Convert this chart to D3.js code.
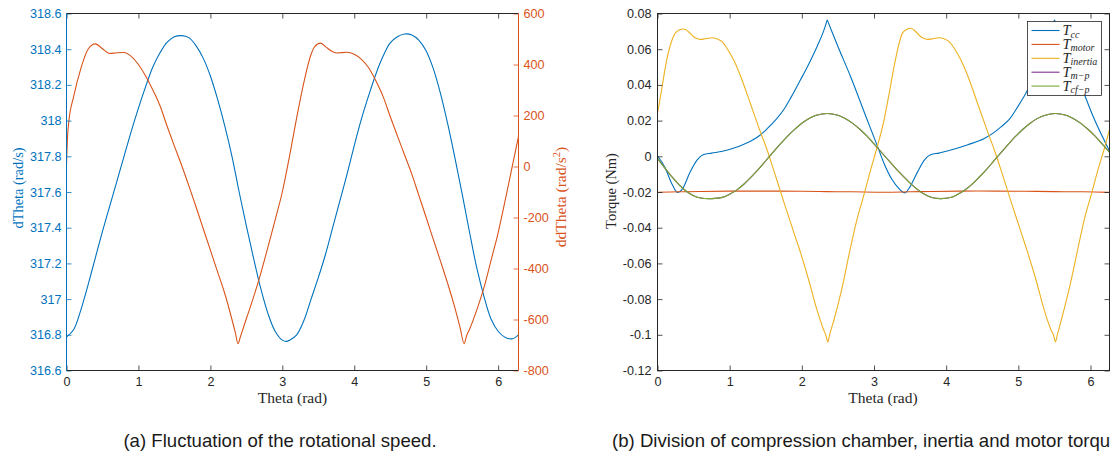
<!DOCTYPE html>
<html>
<head>
<meta charset="utf-8">
<script src="https://cdn.jsdelivr.net/npm/d3@7"></script>
<style>
  body { margin: 0; background: #fff; }
  svg { display: block; }
</style>
</head>
<body>
<svg id="fig" width="1110" height="456"></svg>
<script>
// ---------- shared ticks ----------
const xTicks = [0, 1, 2, 3, 4, 5, 6];
const speedTicks = [316.6, 316.8, 317, 317.2, 317.4, 317.6, 317.8, 318, 318.2, 318.4, 318.6];
const accelTicks = [-800, -600, -400, -200, 0, 200, 400, 600];
const torqueTicks = [-0.12, -0.1, -0.08, -0.06, -0.04, -0.02, 0, 0.02, 0.04, 0.06, 0.08];

// ---------- panel (a): rotational speed and acceleration ----------
const speedTheta = [0,0.1,0.2,0.3,0.4,0.5,0.6,0.7,0.8,0.9,1.0,1.1,1.2,1.3,1.4,1.5,1.6,1.7,1.8,1.9,2.0,2.1,2.2,2.3,2.4,2.5,2.6,2.7,2.8,2.9,3.0,3.06,3.1,3.2,3.3,3.4,3.5,3.6,3.7,3.8,3.9,4.0,4.1,4.2,4.3,4.4,4.5,4.6,4.7,4.8,4.9,5.0,5.1,5.2,5.3,5.4,5.5,5.6,5.7,5.8,5.9,6.0,6.1,6.2,6.283];
const speedVals = [316.787,316.83,316.94,317.08,317.23,317.38,317.52,317.66,317.80,317.94,318.07,318.19,318.30,318.38,318.44,318.47,318.476,318.465,318.42,318.35,318.25,318.12,317.97,317.80,317.60,317.41,317.23,317.06,316.92,316.82,316.77,316.763,316.77,316.80,316.88,317.00,317.12,317.25,317.40,317.55,317.70,317.86,318.01,318.14,318.26,318.36,318.435,318.47,318.485,318.48,318.45,318.39,318.29,318.15,317.98,317.79,317.59,317.38,317.18,317.02,316.89,316.82,316.785,316.778,316.80];

const accelTheta = [0,0.015,0.03,0.1,0.2,0.3,0.4,0.5,0.6,0.7,0.8,0.9,1.0,1.1,1.2,1.3,1.4,1.5,1.6,1.7,1.8,1.9,2.0,2.1,2.2,2.3,2.35,2.384,2.42,2.5,2.6,2.7,2.8,2.9,3.0,3.1,3.2,3.3,3.4,3.45,3.53,3.6,3.7,3.76,3.8,3.9,4.0,4.1,4.2,4.3,4.4,4.5,4.6,4.7,4.8,4.9,5.0,5.1,5.2,5.3,5.4,5.47,5.528,5.56,5.6,5.7,5.8,5.9,6.0,6.1,6.2,6.283];
const accelVals = [6,120,170,275,385,460,481,462,443,446,447,432,400,355,300,238,157,80,5,-75,-158,-243,-328,-413,-498,-600,-655,-695,-665,-597,-512,-420,-316,-210,-100,40,192,330,440,470,484,470,450,445,446,448,440,420,387,336,275,196,120,45,-30,-115,-200,-287,-372,-460,-555,-630,-695,-665,-640,-565,-478,-370,-260,-130,5,118];

// ---------- panel (b): torque components ----------
const ccTheta = [0,0.1,0.2,0.278,0.35,0.45,0.55,0.64,0.75,0.9,1.05,1.2,1.3,1.42,1.52,1.65,1.75,1.85,1.98,2.1,2.21,2.3,2.335,2.352,2.37,2.5,2.676,2.907,3.05,3.139,3.25,3.324,3.426,3.5,3.6,3.7,3.79,3.9,4.065,4.3,4.528,4.65,4.76,4.88,4.991,5.1,5.22,5.35,5.45,5.485,5.5,5.52,5.65,5.82,6.05,6.263];
const ccVals = [0.0003,-0.006,-0.0155,-0.0203,-0.018,-0.009,-0.002,0.001,0.0018,0.0028,0.0045,0.0068,0.0087,0.0118,0.0155,0.021,0.0262,0.033,0.0427,0.052,0.0614,0.070,0.0742,0.0764,0.0746,0.0615,0.0446,0.0203,0.0054,-0.004,-0.013,-0.0171,-0.0205,-0.017,-0.009,-0.002,0.001,0.0018,0.0035,0.0065,0.010,0.013,0.0165,0.021,0.0277,0.035,0.0446,0.058,0.070,0.0742,0.0764,0.0744,0.0615,0.0446,0.021,0.003];

const motorTheta = [0,0.3,0.6,1.0,1.5,2.0,2.35,2.7,3.14,3.5,3.8,4.2,4.7,5.1,5.5,5.9,6.283];
const motorVals = [-0.0201,-0.0199,-0.0197,-0.0195,-0.0195,-0.0196,-0.0198,-0.0199,-0.0201,-0.0199,-0.0197,-0.0195,-0.0195,-0.0196,-0.0198,-0.0199,-0.0202];

const inertiaTheta = [0,0.06,0.127,0.2,0.245,0.3,0.361,0.43,0.5,0.593,0.68,0.755,0.82,0.894,0.97,1.056,1.15,1.287,1.4,1.519,1.6,1.75,1.9,1.982,2.1,2.213,2.3,2.335,2.36,2.385,2.45,2.55,2.676,2.76,2.861,2.95,3.046,3.139,3.2,3.278,3.34,3.394,3.45,3.509,3.58,3.648,3.741,3.83,3.9,3.97,4.04,4.12,4.204,4.3,4.435,4.55,4.667,4.75,4.9,5.05,5.13,5.25,5.361,5.45,5.49,5.514,5.54,5.6,5.7,5.83,5.91,6.01,6.1,6.2,6.283];
const inertiaVals = [0.024,0.038,0.0539,0.065,0.0689,0.0708,0.0713,0.0698,0.067,0.0655,0.066,0.0664,0.0658,0.0642,0.060,0.0539,0.045,0.0296,0.0165,0.0035,-0.0065,-0.0255,-0.044,-0.054,-0.070,-0.0865,-0.097,-0.1005,-0.104,-0.100,-0.091,-0.075,-0.0508,-0.036,-0.0215,-0.008,0.0055,0.0203,0.033,0.0502,0.062,0.069,0.071,0.0717,0.0698,0.067,0.0655,0.066,0.0664,0.0658,0.0642,0.060,0.0539,0.045,0.0296,0.0165,0.0035,-0.0065,-0.0255,-0.044,-0.054,-0.070,-0.0865,-0.097,-0.1005,-0.104,-0.100,-0.091,-0.075,-0.0508,-0.036,-0.0215,-0.008,0.0055,0.018];

const mpTheta = [0,0.1,0.2,0.3,0.4,0.5,0.6,0.755,0.9,1.0,1.1,1.2,1.3,1.4,1.5,1.6,1.7,1.8,1.9,2.0,2.1,2.2,2.352,2.5,2.6,2.7,2.8,2.9,3.0,3.1,3.2,3.3,3.4,3.5,3.6,3.7,3.8,3.917,4.06,4.16,4.26,4.36,4.46,4.56,4.66,4.76,4.86,4.96,5.06,5.16,5.26,5.36,5.514,5.66,5.76,5.86,5.96,6.06,6.16,6.263];
const mpVals = [-0.0012,-0.0065,-0.0115,-0.016,-0.0196,-0.0221,-0.0234,-0.0237,-0.023,-0.0212,-0.0188,-0.0155,-0.0115,-0.0072,-0.0025,0.0022,0.0068,0.0112,0.0151,0.0185,0.0212,0.023,0.024,0.023,0.0212,0.0186,0.0153,0.0114,0.007,0.0024,-0.0022,-0.0068,-0.011,-0.015,-0.0185,-0.0213,-0.0231,-0.0237,-0.0231,-0.0213,-0.0189,-0.0156,-0.0116,-0.0073,-0.0026,0.0021,0.0067,0.0111,0.015,0.0184,0.0211,0.0229,0.024,0.023,0.0212,0.0186,0.0153,0.0114,0.007,0.0023];

const cfTheta = [0,0.1,0.2,0.3,0.4,0.5,0.6,0.755,0.9,1.0,1.1,1.2,1.3,1.4,1.5,1.6,1.7,1.8,1.9,2.0,2.1,2.2,2.352,2.5,2.6,2.7,2.8,2.9,3.0,3.1,3.2,3.3,3.4,3.5,3.6,3.7,3.8,3.917,4.06,4.16,4.26,4.36,4.46,4.56,4.66,4.76,4.86,4.96,5.06,5.16,5.26,5.36,5.514,5.66,5.76,5.86,5.96,6.06,6.16,6.263];
const cfVals = [-0.0012,-0.0065,-0.0115,-0.016,-0.0196,-0.0221,-0.0234,-0.0237,-0.023,-0.0212,-0.0188,-0.0155,-0.0115,-0.0072,-0.0025,0.0022,0.0068,0.0112,0.0151,0.0185,0.0212,0.023,0.024,0.023,0.0212,0.0186,0.0153,0.0114,0.007,0.0024,-0.0022,-0.0068,-0.011,-0.015,-0.0185,-0.0213,-0.0231,-0.0237,-0.0231,-0.0213,-0.0189,-0.0156,-0.0116,-0.0073,-0.0026,0.0021,0.0067,0.0111,0.015,0.0184,0.0211,0.0229,0.024,0.023,0.0212,0.0186,0.0153,0.0114,0.007,0.0023];

const legendMain = ["T", "T", "T", "T", "T"];
const legendSub = ["cc", "motor", "inertia", "m\u2212p", "cf\u2212p"];

const captionA = "(a) Fluctuation of the rotational speed.";
const captionB = "(b) Division of compression chamber, inertia and motor torque.";

// ---------- styling ----------
const INK = "#262626";
const COL = { blue: "#0072BD", orange: "#D95319", yellow: "#EDB120", purple: "#7E2F8E", green: "#77AC30" };
const SANS = "'Liberation Sans', Arial, Helvetica, sans-serif";
const SERIF = "'Liberation Serif', 'Times New Roman', serif";
const TICK_FS = "12.6px";
const fmt = v => String(+v.toFixed(3));
const pairs = (xs, ys) => xs.map((x, i) => [x, ys[i]]);
const smooth = d3.curveCatmullRom.alpha(0.5);
const kinked = d3.curveMonotoneX;

const svg = d3.select("#fig");
const defs = svg.append("defs");

function styleAxis(g, color) {
  g.attr("color", color)
   .attr("font-family", SANS)
   .attr("font-size", TICK_FS);
  g.select(".domain").remove();
  g.selectAll(".tick line").attr("stroke-width", 0.8);
}

function clipRect(id, x0, x1, y0, y1) {
  defs.append("clipPath").attr("id", id)
    .append("rect").attr("x", x0).attr("y", y0)
    .attr("width", x1 - x0).attr("height", y1 - y0);
}

// ================= panel (a) =================
const A = { left: 66.5, right: 518.5, top: 13.5, bottom: 370.5 };
const xA = d3.scaleLinear([0, 2 * Math.PI], [A.left, A.right]);
const ySpeed = d3.scaleLinear([316.6, 318.6], [A.bottom, A.top]);
const yAccel = d3.scaleLinear([-800, 600], [A.bottom, A.top]);
clipRect("clipA", A.left, A.right, A.top - 1, A.bottom + 1);

const gA = svg.append("g");
gA.append("g").attr("clip-path", "url(#clipA)")
  .append("path")
  .datum(pairs(speedTheta, speedVals))
  .attr("fill", "none").attr("stroke", COL.blue).attr("stroke-width", 1.1)
  .attr("d", d3.line().x(d => xA(d[0])).y(d => ySpeed(d[1])).curve(smooth));
gA.append("g").attr("clip-path", "url(#clipA)")
  .append("path")
  .datum(pairs(accelTheta, accelVals))
  .attr("fill", "none").attr("stroke", COL.orange).attr("stroke-width", 1.1)
  .attr("d", d3.line().x(d => xA(d[0])).y(d => yAccel(d[1])).curve(kinked));

// axes (ticks point inward)
gA.append("g").attr("transform", `translate(0,${A.bottom})`)
  .call(d3.axisBottom(xA).tickValues(xTicks).tickSizeInner(-5).tickSizeOuter(0).tickPadding(7).tickFormat(fmt))
  .call(g => styleAxis(g, INK));
gA.append("g").attr("transform", `translate(0,${A.top})`)
  .call(d3.axisTop(xA).tickValues(xTicks).tickSizeInner(-5).tickSizeOuter(0).tickFormat(""))
  .call(g => styleAxis(g, INK));
gA.append("g").attr("transform", `translate(${A.left},0)`)
  .call(d3.axisLeft(ySpeed).tickValues(speedTicks).tickSizeInner(-5).tickSizeOuter(0).tickPadding(5).tickFormat(fmt))
  .call(g => styleAxis(g, COL.blue));
gA.append("g").attr("transform", `translate(${A.right},0)`)
  .call(d3.axisRight(yAccel).tickValues(accelTicks).tickSizeInner(-5).tickSizeOuter(0).tickPadding(5).tickFormat(fmt))
  .call(g => styleAxis(g, COL.orange));

// frame
gA.append("line").attr("x1", A.left).attr("x2", A.right).attr("y1", A.top).attr("y2", A.top).attr("stroke", INK);
gA.append("line").attr("x1", A.left).attr("x2", A.right).attr("y1", A.bottom).attr("y2", A.bottom).attr("stroke", INK);
gA.append("line").attr("x1", A.left).attr("x2", A.left).attr("y1", A.top).attr("y2", A.bottom).attr("stroke", COL.blue);
gA.append("line").attr("x1", A.right).attr("x2", A.right).attr("y1", A.top).attr("y2", A.bottom).attr("stroke", COL.orange);

// labels
gA.append("text").attr("x", (A.left + A.right) / 2).attr("y", 403)
  .attr("text-anchor", "middle").attr("font-family", SERIF).attr("font-size", "15.5px").attr("fill", INK)
  .text("Theta (rad)");
gA.append("text").attr("transform", "translate(23,188) rotate(-90)")
  .attr("text-anchor", "middle").attr("font-family", SERIF).attr("font-size", "14.4px").attr("fill", COL.blue)
  .text("dTheta (rad/s)");
const rl = gA.append("text").attr("transform", "translate(566,197) rotate(-90)")
  .attr("text-anchor", "middle").attr("font-family", SERIF).attr("font-size", "15.5px").attr("fill", COL.orange);
rl.append("tspan").text("ddTheta (rad/s");
rl.append("tspan").attr("font-size", "10.5px").attr("dy", "-6").text("2");
rl.append("tspan").attr("dy", "6").text(")");

// ================= panel (b) =================
const B = { left: 657.5, right: 1109.5, top: 13.5, bottom: 370.5 };
const xB = d3.scaleLinear([0, 6.263], [B.left, B.right]);
const yT = d3.scaleLinear([-0.12, 0.08], [B.bottom, B.top]);
clipRect("clipB", B.left, B.right, B.top - 1, B.bottom + 1);

const seriesB = [
  { theta: ccTheta, vals: ccVals, color: COL.blue, curve: kinked },
  { theta: motorTheta, vals: motorVals, color: COL.orange, curve: smooth },
  { theta: inertiaTheta, vals: inertiaVals, color: COL.yellow, curve: kinked },
  { theta: mpTheta, vals: mpVals, color: COL.purple, curve: smooth },
  { theta: cfTheta, vals: cfVals, color: COL.green, curve: smooth }
];
const gB = svg.append("g");
const plotB = gB.append("g").attr("clip-path", "url(#clipB)");
seriesB.forEach(s => {
  plotB.append("path").datum(pairs(s.theta, s.vals))
    .attr("fill", "none").attr("stroke", s.color).attr("stroke-width", 1.1)
    .attr("d", d3.line().x(d => xB(d[0])).y(d => yT(d[1])).curve(s.curve));
});

gB.append("g").attr("transform", `translate(0,${B.bottom})`)
  .call(d3.axisBottom(xB).tickValues(xTicks).tickSizeInner(-5).tickSizeOuter(0).tickPadding(7).tickFormat(fmt))
  .call(g => styleAxis(g, INK));
gB.append("g").attr("transform", `translate(0,${B.top})`)
  .call(d3.axisTop(xB).tickValues(xTicks).tickSizeInner(-5).tickSizeOuter(0).tickFormat(""))
  .call(g => styleAxis(g, INK));
gB.append("g").attr("transform", `translate(${B.left},0)`)
  .call(d3.axisLeft(yT).tickValues(torqueTicks).tickSizeInner(-5).tickSizeOuter(0).tickPadding(6).tickFormat(fmt))
  .call(g => styleAxis(g, INK));
gB.append("g").attr("transform", `translate(${B.right},0)`)
  .call(d3.axisRight(yT).tickValues(torqueTicks).tickSizeInner(-5).tickSizeOuter(0).tickFormat(""))
  .call(g => styleAxis(g, INK));
gB.append("rect").attr("x", B.left).attr("y", B.top)
  .attr("width", B.right - B.left).attr("height", B.bottom - B.top)
  .attr("fill", "none").attr("stroke", INK);

gB.append("text").attr("x", 883).attr("y", 403)
  .attr("text-anchor", "middle").attr("font-family", SERIF).attr("font-size", "15.5px").attr("fill", INK)
  .text("Theta (rad)");
gB.append("text").attr("transform", "translate(616,191) rotate(-90)")
  .attr("text-anchor", "middle").attr("font-family", SERIF).attr("font-size", "14.5px").attr("fill", INK)
  .text("Torque (Nm)");

// legend
const leg = gB.append("g").attr("transform", "translate(1027.5,21.5)");
leg.append("rect").attr("width", 74).attr("height", 74)
  .attr("fill", "#fff").attr("stroke", INK).attr("stroke-width", 0.8);
seriesB.forEach((s, i) => {
  const y = 9 + i * 13.9;
  leg.append("line").attr("x1", 4).attr("x2", 32).attr("y1", y).attr("y2", y)
    .attr("stroke", s.color).attr("stroke-width", 1.1);
  const t = leg.append("text").attr("x", 35).attr("y", y + 4.5)
    .attr("font-family", SERIF).attr("font-style", "italic").attr("fill", INK);
  t.append("tspan").attr("font-size", "14.5px").text(legendMain[i]);
  t.append("tspan").attr("font-size", "10px").attr("dy", "2.5").text(legendSub[i]);
});

// ================= captions =================
svg.append("text").attr("x", 280).attr("y", 447).attr("text-anchor", "middle")
  .attr("font-family", SANS).attr("font-size", "18.6px").attr("fill", "#1a1a1a")
  .text(captionA);
svg.append("text").attr("x", 612).attr("y", 447).attr("text-anchor", "start")
  .attr("font-family", SANS).attr("font-size", "18.6px").attr("fill", "#1a1a1a")
  .text(captionB);
</script>
</body>
</html>
